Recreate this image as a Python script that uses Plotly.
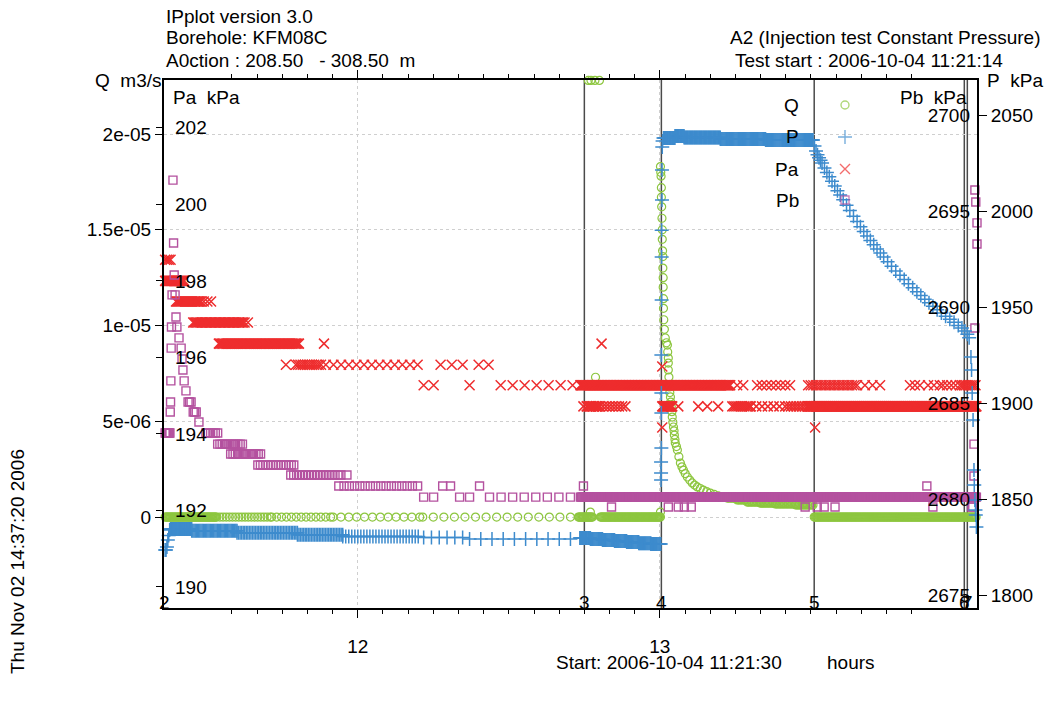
import numpy as np
import plotly.graph_objects as go

# ---------------- data (time in hours of day) ----------------
# Q  (m3/s): constant-level runs (value, t_start, t_end, samples)
q_runs = [
    (0.0, 11.362, 11.530, 60),
    (0.0, 11.533, 11.710, 18),
    (0.0, 11.715, 11.910, 13),
    (0.0, 11.918, 12.205, 12),
    (0.0, 12.215, 12.704, 15),
    (0.0, 12.730, 12.777, 18),
    (0.0, 12.803, 13.002, 70),
    (0.99e-6, 13.223, 13.256, 8),
    (0.89e-6, 13.256, 13.289, 8),
    (0.78e-6, 13.289, 13.332, 10),
    (0.73e-6, 13.332, 13.382, 12),
    (0.68e-6, 13.382, 13.450, 16),
    (0.63e-6, 13.450, 13.507, 14),
    (0.0, 13.511, 14.047, 160),
]
q_t = [12.770, 12.787, 13.002, 12.763, 12.772, 12.785, 12.800,
       13.002, 13.003, 13.004, 13.005, 13.005, 13.006, 13.007, 13.008, 13.008,
       13.009, 13.010, 13.010, 13.011, 13.011, 13.012, 13.012, 13.013,
       13.015, 13.018, 13.022, 13.025, 13.026, 13.028, 13.028, 13.028, 13.030,
       13.031, 13.033, 13.035, 13.036, 13.038, 13.040, 13.041, 13.043, 13.045,
       13.047, 13.048, 13.050, 13.051, 13.055, 13.058, 13.063, 13.068, 13.073,
       13.078, 13.084, 13.091, 13.099, 13.107, 13.115, 13.124, 13.134, 13.144,
       13.155, 13.167, 13.180, 13.193, 13.208]
q_v = [0.26e-6, 7.3e-6, 0.26e-6, 22.8e-6, 22.8e-6, 22.8e-6, 22.8e-6,
       18.3e-6, 18.0e-6, 17.8e-6, 17.2e-6, 16.7e-6, 16.2e-6, 15.6e-6, 15.0e-6, 14.5e-6,
       13.9e-6, 13.6e-6, 13.0e-6, 12.5e-6, 12.0e-6, 11.4e-6, 10.9e-6, 10.3e-6,
       9.8e-6, 9.35e-6, 9.1e-6, 8.98e-6, 8.62e-6, 8.30e-6, 8.04e-6, 7.68e-6, 7.31e-6,
       6.79e-6, 6.5e-6, 6.27e-6, 6.0e-6, 5.74e-6, 5.5e-6, 5.22e-6, 4.95e-6, 4.70e-6,
       4.5e-6, 4.28e-6, 4.05e-6, 3.86e-6, 3.68e-6, 3.50e-6, 3.15e-6, 2.82e-6, 2.62e-6,
       2.45e-6, 2.27e-6, 2.09e-6, 1.93e-6, 1.78e-6, 1.67e-6, 1.57e-6, 1.49e-6, 1.41e-6,
       1.33e-6, 1.25e-6, 1.18e-6, 1.10e-6, 1.04e-6]

# P  (kPa)
p_runs = [
    (1834.4, 11.380, 11.450, 30),
    (1833.4, 11.450, 11.600, 40),
    (1832.4, 11.600, 11.800, 40),
    (1831.4, 11.800, 11.950, 30),
    (1830.5, 11.950, 12.200, 26),
    (1830.0, 12.218, 12.347, 6),
    (1829.2, 12.370, 12.704, 10),
    (1829.7, 12.735, 12.770, 14),
    (1829.2, 12.770, 12.810, 14),
    (1828.6, 12.810, 12.850, 14),
    (1828.1, 12.850, 12.890, 14),
    (1827.6, 12.890, 12.930, 14),
    (1827.0, 12.930, 12.970, 14),
    (1826.5, 12.970, 13.003, 12),
    (2038.0, 13.012, 13.050, 16),
    (2039.0, 13.050, 13.080, 12),
    (2038.3, 13.080, 13.200, 45),
    (2037.5, 13.200, 13.350, 50),
    (2037.0, 13.350, 13.505, 50),
]
p_t = [11.362, 11.365, 11.368, 11.371, 11.374, 11.377,
       13.004, 13.004, 13.004, 13.005, 13.005, 13.005, 13.005, 13.006, 13.006,
       13.006, 13.007, 13.007, 13.008, 13.009,
       13.507, 13.512, 13.517, 13.522, 13.527, 13.532, 13.537, 13.545, 13.553,
       13.561, 13.570, 13.579, 13.588, 13.597, 13.607, 13.618, 13.629, 13.641,
       13.653, 13.664, 13.675, 13.686, 13.697, 13.708, 13.719, 13.730, 13.741,
       13.754, 13.767, 13.781, 13.795, 13.809, 13.823, 13.837, 13.851, 13.864,
       13.877, 13.891, 13.904, 13.918, 13.932, 13.946, 13.960, 13.974, 13.988,
       14.000, 14.010, 14.018, 14.024,
       14.030, 14.032, 14.034, 14.037, 14.040, 14.041, 14.043, 14.045, 14.046, 14.048]
p_v = [1823.4, 1823.4, 1825.0, 1828.6, 1831.0, 1833.9,
       1859.9, 1863.5, 1869.3, 1876.6, 1894.8, 1905.2, 1925.0, 1953.6, 1976.0,
       1990.0, 2005.7, 2021.4, 2033.3, 2036.5,
       2037.0, 2033.8, 2031.2, 2029.3, 2027.8, 2026.4, 2025.0, 2022.4, 2020.0,
       2017.8, 2015.5, 2013.0, 2010.6, 2008.3, 2005.8, 2003.0, 2000.3, 1997.3,
       1994.5, 1991.8, 1989.3, 1987.0, 1984.7, 1982.4, 1980.2, 1978.1, 1976.0,
       1973.6, 1971.2, 1968.8, 1966.5, 1964.3, 1962.1, 1960.0, 1958.0, 1956.0,
       1954.1, 1952.2, 1950.4, 1948.6, 1946.9, 1945.2, 1943.6, 1942.0, 1940.4,
       1939.0, 1937.5, 1935.8, 1934.0,
       1924.0, 1917.2, 1905.2, 1891.1, 1865.1, 1857.3, 1849.5, 1844.3, 1841.7, 1835.4]

# Pa (kPa)
pa_runs = [
    (198.55, 11.362, 11.380, 4),
    (198.00, 11.362, 11.425, 25),
    (197.46, 11.398, 11.481, 25),
    (197.46, 11.490, 11.514, 3),
    (196.91, 11.455, 11.620, 40),
    (196.91, 11.625, 11.636, 2),
    (196.36, 11.540, 11.805, 60),
    (195.81, 11.795, 11.878, 12),
    (195.81, 11.894, 12.198, 13),
    (195.27, 12.473, 12.711, 7),
    (195.27, 12.737, 13.233, 200),
    (195.27, 13.322, 13.431, 8),
    (195.27, 13.491, 13.653, 20),
    (195.27, 13.679, 13.729, 3),
    (195.27, 13.828, 13.861, 3),
    (195.27, 13.888, 13.927, 3),
    (195.27, 13.937, 13.993, 5),
    (195.27, 14.000, 14.045, 8),
    (194.72, 12.747, 12.886, 14),
    (194.72, 12.760, 12.800, 8),
    (194.72, 13.008, 13.041, 15),
    (194.72, 13.240, 13.300, 10),
    (194.72, 13.300, 13.415, 7),
    (194.72, 13.425, 13.488, 8),
    (194.72, 13.491, 14.048, 250),
]
pa_t = [11.888, 12.807, 11.762, 12.274, 12.311, 12.347, 12.400, 12.433, 13.008,
        12.218, 12.251, 12.370, 13.256, 13.276,
        13.061, 13.127, 13.157, 13.193, 13.008, 13.514]
pa_v = [196.36, 196.36, 195.81, 195.81, 195.81, 195.81, 195.81, 195.81, 195.76,
        195.27, 195.27, 195.27, 195.27, 195.27,
        194.72, 194.72, 194.72, 194.72, 194.17, 194.17]

# Pb (kPa)
pb_runs = [
    (2683.44, 11.362, 11.378, 8),
    (2685.05, 11.438, 11.448, 3),
    (2684.53, 11.455, 11.465, 3),
    (2683.44, 11.497, 11.536, 6),
    (2682.86, 11.536, 11.618, 12),
    (2682.34, 11.579, 11.678, 14),
    (2681.77, 11.669, 11.788, 15),
    (2681.25, 11.778, 11.944, 18),
    (2680.68, 11.937, 12.198, 16),
    (2680.10, 12.436, 12.704, 8),
    (2680.10, 12.737, 14.048, 460),
]
pb_t = [11.379, 11.380, 11.381, 11.382, 11.383, 11.385, 11.388,
        11.390, 11.392, 11.395, 11.398, 11.401, 11.408, 11.415, 11.418, 11.421,
        11.425, 11.431, 11.474,
        11.964, 12.281, 12.307, 12.403, 12.747, 13.884,
        12.218, 12.251, 12.337, 12.370,
        12.840, 13.028, 13.061, 13.081, 13.104, 13.481, 13.521, 13.544, 13.580, 13.904,
        14.043, 14.046, 14.050, 14.050, 14.043, 14.040, 14.040, 14.033, 14.036]
pb_v = [2684.53, 2685.05, 2686.15, 2687.86, 2688.96, 2690.63, 2696.61,
        2693.33, 2691.67, 2690.63, 2689.48, 2688.96, 2688.39, 2687.86, 2687.29, 2686.72,
        2686.15, 2685.63, 2684.01,
        2681.25, 2680.68, 2680.68, 2680.68, 2680.68, 2680.68,
        2680.10, 2680.10, 2680.10, 2680.10,
        2679.58, 2679.58, 2679.58, 2679.58, 2679.58, 2679.58, 2679.58, 2679.58, 2679.58, 2679.58,
        2696.09, 2695.47, 2694.38, 2693.28, 2688.91, 2682.86, 2681.20, 2679.58, 2679.58]

# test events
event_t = [12.750, 13.005, 13.511, 14.008, 14.018]
event_lbl = ["3", "4", "5", "6", "7"]

q_ticks = [0, 5e-6, 1e-5, 1.5e-5, 2e-5]
q_ticktext = ["0", "5e-06", "1e-05", "1.5e-05", "2e-05"]

# ---------------- helpers ----------------
def series(runs, t_extra, v_extra):
    ts, vs = [], []
    for v, t0, t1, n in runs:
        tt = np.linspace(t0, t1, n)
        ts.extend(tt.tolist())
        vs.extend([v] * n)
    ts.extend(t_extra)
    vs.extend(v_extra)
    return ts, vs

W, H = 1047, 706
L, R, T, B = 164, 977, 80, 608
PW, PH = R - L, B - T

def fx(px):
    return (px - L) / PW

def fy(py):
    return (B - py) / PH

GREEN = "#8DC63F"
BLUE = "#3D8BCD"
RED = "#EE2D2E"
PURPLE = "#B4519F"
FONT = "Liberation Sans, Arial, sans-serif"
FS = 19
TF = dict(family=FONT, size=FS, color="black")

fig = go.Figure()

qt, qv = series(q_runs, q_t, q_v)
pt, pv = series(p_runs, p_t, p_v)
pat, pav = series(pa_runs, pa_t, pa_v)
pbt, pbv = series(pb_runs, pb_t, pb_v)

fig.add_trace(go.Scatter(x=qt, y=qv, mode="markers", name="Q", yaxis="y",
                         cliponaxis=False,
                         marker=dict(symbol="circle-open", size=8, color=GREEN,
                                     line=dict(width=1.2, color=GREEN))))
fig.add_trace(go.Scatter(x=pt, y=pv, mode="markers", name="P", yaxis="y4",
                         cliponaxis=False,
                         marker=dict(symbol="cross-thin-open", size=10, color=BLUE,
                                     line=dict(width=1.5, color=BLUE))))
fig.add_trace(go.Scatter(x=pat, y=pav, mode="markers", name="Pa", yaxis="y2",
                         cliponaxis=False,
                         marker=dict(symbol="x-thin-open", size=10, color=RED,
                                     line=dict(width=1.5, color=RED))))
fig.add_trace(go.Scatter(x=pbt, y=pbv, mode="markers", name="Pb", yaxis="y3",
                         cliponaxis=False,
                         marker=dict(symbol="square-open", size=8, color=PURPLE,
                                     line=dict(width=1.4, color=PURPLE))))

# legend keys (text left, symbol right)
leg_names = ["Q", "P", "Pa", "Pb"]
leg_sym = ["circle-open", "cross-thin-open", "x-thin-open", "square-open"]
leg_col = [GREEN, BLUE, RED, PURPLE]
leg_size = [8, 10, 10, 8]
leg_y = [105, 137, 169, 200]
fig.add_trace(go.Scatter(
    x=[fx(845)] * 4, y=[fy(v) for v in leg_y], mode="markers", xaxis="x2", yaxis="y5",
    showlegend=False, hoverinfo="skip", cliponaxis=False,
    marker=dict(symbol=leg_sym, size=leg_size, color=leg_col,
                line=dict(width=1.4, color=leg_col))))

ann = []
for name, yy in zip(leg_names, leg_y):
    ann.append(dict(text=name, x=fx(801), y=fy(yy), xanchor="right", yanchor="middle"))

# header and axis titles
ann += [
    dict(text="IPplot version 3.0", x=fx(164), y=fy(17), xanchor="left", yanchor="middle"),
    dict(text="Borehole: KFM08C", x=fx(164), y=fy(38), xanchor="left", yanchor="middle"),
    dict(text="A0ction : 208.50\u00a0\u00a0\u00a0- 308.50\u00a0\u00a0m", x=fx(164), y=fy(60),
         xanchor="left", yanchor="middle"),
    dict(text="A2 (Injection test Constant Pressure)", x=fx(1042), y=fy(38),
         xanchor="right", yanchor="middle"),
    dict(text="Test start : 2006-10-04 11:21:14", x=fx(733), y=fy(60),
         xanchor="left", yanchor="middle"),
    dict(text="Q\u00a0\u00a0m3/s", x=fx(164), y=fy(80), xanchor="right", yanchor="middle"),
    dict(text="P\u00a0\u00a0kPa", x=fx(985), y=fy(80), xanchor="left", yanchor="middle"),
    dict(text="Pa\u00a0\u00a0kPa", x=fx(171), y=fy(97), xanchor="left", yanchor="middle"),
    dict(text="Pb\u00a0\u00a0kPa", x=fx(969), y=fy(97), xanchor="right", yanchor="middle"),
    dict(text="Start: 2006-10-04 11:21:30", x=fx(554), y=fy(662), xanchor="left", yanchor="middle"),
    dict(text="hours", x=fx(825), y=fy(662), xanchor="left", yanchor="middle"),
    dict(text="Thu Nov 02 14:37:20 2006", x=fx(17), y=fy(562), xanchor="center",
         yanchor="middle", textangle=-90),
    dict(text="2", x=fx(164), y=fy(602), xanchor="center", yanchor="middle"),
]
for a in ann:
    a.setdefault("xref", "paper")
    a.setdefault("yref", "paper")
    a["showarrow"] = False
    a["font"] = TF

for t, lbl in zip(event_t, event_lbl):
    ann.append(dict(text=lbl, x=t, xref="x", y=fy(602), yref="paper", showarrow=False,
                    xanchor="center", yanchor="middle", font=TF))

shapes = [dict(type="line", xref="x", yref="paper", x0=t, x1=t, y0=0, y1=1,
               line=dict(color="#4a4a4a", width=1.5), layer="below") for t in event_t]

grid = dict(showgrid=True, gridcolor="#cfcfcf", griddash="dot", gridwidth=1)

fig.update_layout(
    width=W, height=H,
    margin=dict(l=L, r=W - R, t=T, b=H - B, pad=0),
    paper_bgcolor="white", plot_bgcolor="white",
    showlegend=False,
    font=TF,
    annotations=ann, shapes=shapes,
    xaxis=dict(range=[11.3583, 14.05], tick0=12, dtick=1, ticks="outside", ticklen=8,
               tickcolor="black", showline=True, linecolor="black", linewidth=2,
               mirror="ticks", zeroline=False, ticklabelstandoff=12,
               tickfont=TF,
               minor=dict(tick0=12, dtick=1 / 12, ticks="outside", ticklen=4,
                          tickcolor="black", showgrid=False),
               **grid),
    yaxis=dict(range=[-4.75e-6, 22.82e-6], tickvals=q_ticks, ticktext=q_ticktext,
               ticks="outside", ticklen=7, tickcolor="black", showline=True,
               linecolor="black", linewidth=2, zeroline=False, tickfont=TF,
               **grid),
    yaxis2=dict(range=[189.45, 203.25], tick0=190, dtick=2, overlaying="y", side="left",
                anchor="x", ticks="outside", ticklen=7, tickcolor="black",
                ticklabelposition="inside", ticklabelstandoff=8, showgrid=False,
                zeroline=False, showline=False, tickfont=TF),
    yaxis3=dict(range=[2674.323, 2701.823], tick0=2675, dtick=5, overlaying="y",
                side="right", anchor="x", ticks="", ticklabelposition="inside",
                ticklabelstandoff=4, showgrid=False, zeroline=False, showline=False,
                tickfont=TF),
    yaxis4=dict(range=[1793.23, 2068.23], tick0=1800, dtick=50, overlaying="y",
                side="right", anchor="x", ticks="outside", ticklen=8, tickcolor="black",
                showgrid=False, zeroline=False, showline=True, linecolor="black",
                linewidth=2, tickfont=TF),
    xaxis2=dict(overlaying="x", range=[0, 1], visible=False),
    yaxis5=dict(overlaying="y", range=[0, 1], visible=False),
)

fig.write_html("out.html")
